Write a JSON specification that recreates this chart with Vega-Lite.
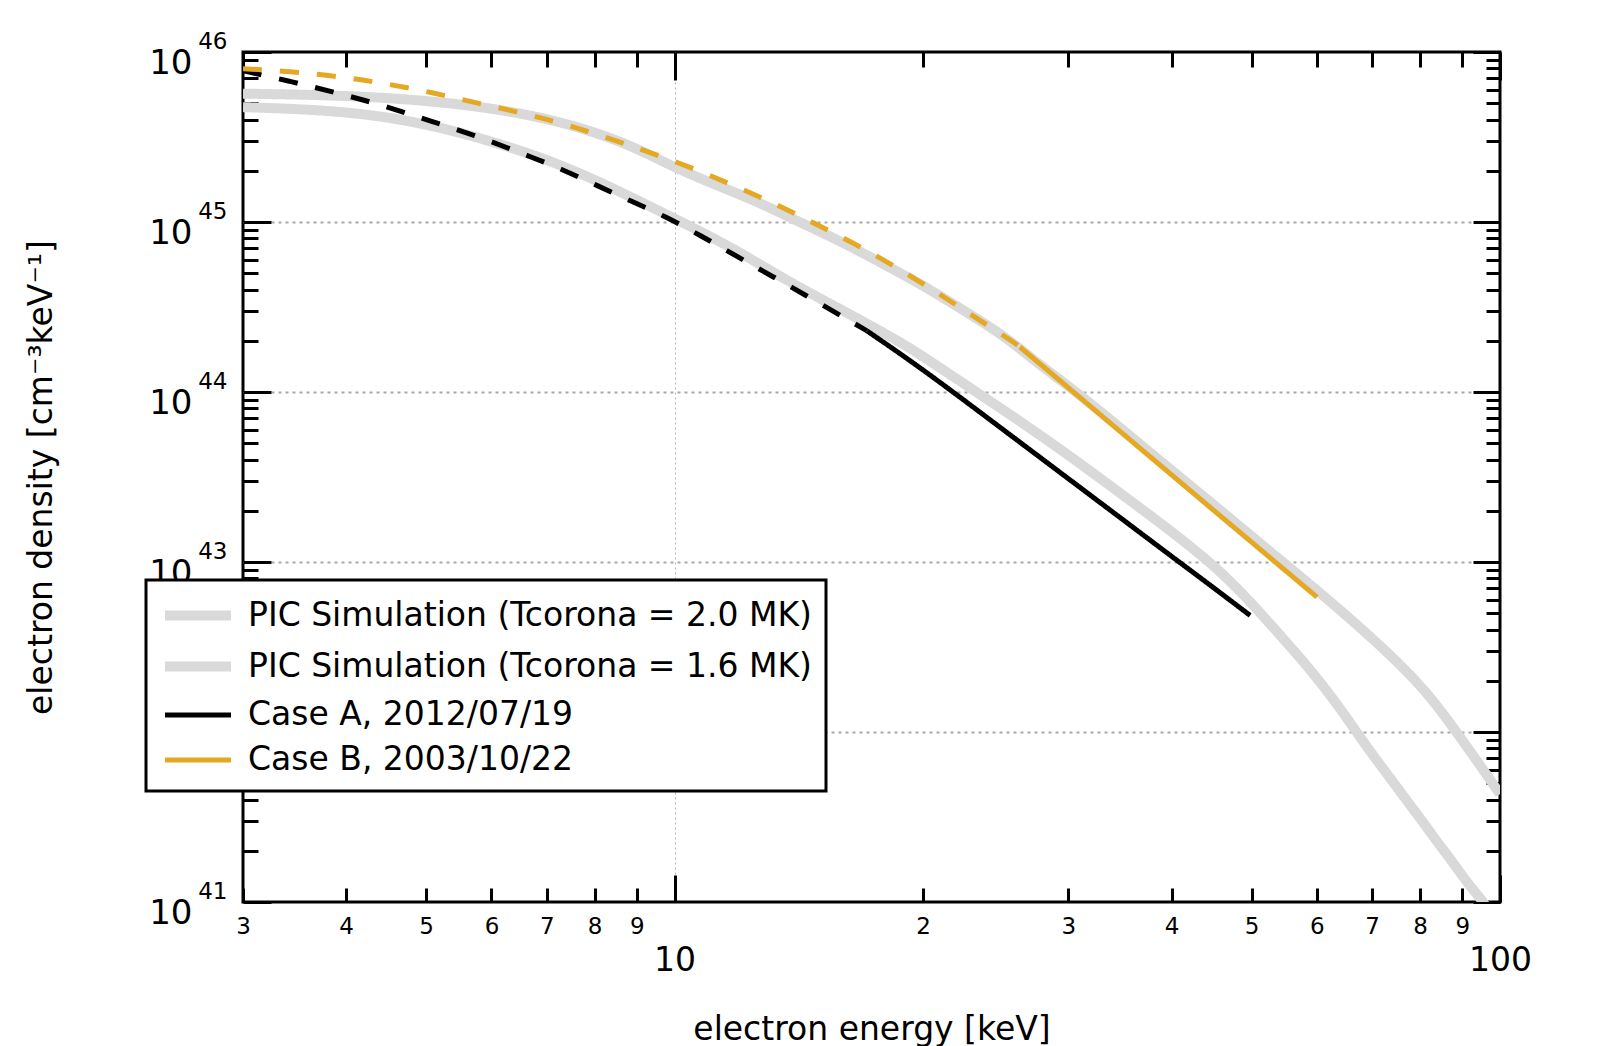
{
  "$schema": "https://vega.github.io/schema/vega-lite/v6.json",
  "width": 1257,
  "height": 850,
  "autosize": {"type": "none"},
  "padding": {"left": 243, "top": 52, "right": 104, "bottom": 144},
  "background": "white",
  "config": {
    "font": "DejaVu Sans",
    "view": {"stroke": "#000000", "strokeWidth": 3},
    "axis": {
      "labelFont": "DejaVu Sans",
      "titleFont": "DejaVu Sans",
      "labelColor": "#000000",
      "titleColor": "#000000",
      "titleFontWeight": "normal",
      "domain": false,
      "tickColor": "#000000",
      "tickWidth": 3,
      "labelFlush": false,
      "labelOverlap": false,
      "labelBound": false
    }
  },
  "datasets": {
    "spectra": [
      {"series": "PIC Simulation (Tcorona = 2.0 MK)", "part": "sim", "energy": 3, "density": 5.69e45},
      {"series": "PIC Simulation (Tcorona = 2.0 MK)", "part": "sim", "energy": 4, "density": 5.56e45},
      {"series": "PIC Simulation (Tcorona = 2.0 MK)", "part": "sim", "energy": 5, "density": 5.19e45},
      {"series": "PIC Simulation (Tcorona = 2.0 MK)", "part": "sim", "energy": 6, "density": 4.68e45},
      {"series": "PIC Simulation (Tcorona = 2.0 MK)", "part": "sim", "energy": 7, "density": 4.07e45},
      {"series": "PIC Simulation (Tcorona = 2.0 MK)", "part": "sim", "energy": 8, "density": 3.39e45},
      {"series": "PIC Simulation (Tcorona = 2.0 MK)", "part": "sim", "energy": 9, "density": 2.72e45},
      {"series": "PIC Simulation (Tcorona = 2.0 MK)", "part": "sim", "energy": 10, "density": 2.09e45},
      {"series": "PIC Simulation (Tcorona = 2.0 MK)", "part": "sim", "energy": 11.2, "density": 1.66e45},
      {"series": "PIC Simulation (Tcorona = 2.0 MK)", "part": "sim", "energy": 12.6, "density": 1.318e45},
      {"series": "PIC Simulation (Tcorona = 2.0 MK)", "part": "sim", "energy": 14.1, "density": 1.01e45},
      {"series": "PIC Simulation (Tcorona = 2.0 MK)", "part": "sim", "energy": 15.85, "density": 7.76e44},
      {"series": "PIC Simulation (Tcorona = 2.0 MK)", "part": "sim", "energy": 17.8, "density": 5.75e44},
      {"series": "PIC Simulation (Tcorona = 2.0 MK)", "part": "sim", "energy": 19.95, "density": 4.27e44},
      {"series": "PIC Simulation (Tcorona = 2.0 MK)", "part": "sim", "energy": 22.4, "density": 3.02e44},
      {"series": "PIC Simulation (Tcorona = 2.0 MK)", "part": "sim", "energy": 25.1, "density": 2.14e44},
      {"series": "PIC Simulation (Tcorona = 2.0 MK)", "part": "sim", "energy": 27.5, "density": 1.48e44},
      {"series": "PIC Simulation (Tcorona = 2.0 MK)", "part": "sim", "energy": 30.7, "density": 1.0e44},
      {"series": "PIC Simulation (Tcorona = 2.0 MK)", "part": "sim", "energy": 35.5, "density": 5.60e43},
      {"series": "PIC Simulation (Tcorona = 2.0 MK)", "part": "sim", "energy": 39.8, "density": 3.53e43},
      {"series": "PIC Simulation (Tcorona = 2.0 MK)", "part": "sim", "energy": 44.7, "density": 2.23e43},
      {"series": "PIC Simulation (Tcorona = 2.0 MK)", "part": "sim", "energy": 50.1, "density": 1.406e43},
      {"series": "PIC Simulation (Tcorona = 2.0 MK)", "part": "sim", "energy": 56.2, "density": 8.87e42},
      {"series": "PIC Simulation (Tcorona = 2.0 MK)", "part": "sim", "energy": 63.1, "density": 5.56e42},
      {"series": "PIC Simulation (Tcorona = 2.0 MK)", "part": "sim", "energy": 70.8, "density": 3.39e42},
      {"series": "PIC Simulation (Tcorona = 2.0 MK)", "part": "sim", "energy": 75.9, "density": 2.455e42},
      {"series": "PIC Simulation (Tcorona = 2.0 MK)", "part": "sim", "energy": 81.3, "density": 1.738e42},
      {"series": "PIC Simulation (Tcorona = 2.0 MK)", "part": "sim", "energy": 87.1, "density": 1.122e42},
      {"series": "PIC Simulation (Tcorona = 2.0 MK)", "part": "sim", "energy": 93.3, "density": 7.0e41},
      {"series": "PIC Simulation (Tcorona = 2.0 MK)", "part": "sim", "energy": 100, "density": 4.32e41},

      {"series": "PIC Simulation (Tcorona = 1.6 MK)", "part": "sim", "energy": 3, "density": 4.74e45},
      {"series": "PIC Simulation (Tcorona = 1.6 MK)", "part": "sim", "energy": 4, "density": 4.52e45},
      {"series": "PIC Simulation (Tcorona = 1.6 MK)", "part": "sim", "energy": 5, "density": 3.80e45},
      {"series": "PIC Simulation (Tcorona = 1.6 MK)", "part": "sim", "energy": 6, "density": 2.99e45},
      {"series": "PIC Simulation (Tcorona = 1.6 MK)", "part": "sim", "energy": 7, "density": 2.34e45},
      {"series": "PIC Simulation (Tcorona = 1.6 MK)", "part": "sim", "energy": 8, "density": 1.778e45},
      {"series": "PIC Simulation (Tcorona = 1.6 MK)", "part": "sim", "energy": 9, "density": 1.349e45},
      {"series": "PIC Simulation (Tcorona = 1.6 MK)", "part": "sim", "energy": 10, "density": 1.047e45},
      {"series": "PIC Simulation (Tcorona = 1.6 MK)", "part": "sim", "energy": 11, "density": 8.32e44},
      {"series": "PIC Simulation (Tcorona = 1.6 MK)", "part": "sim", "energy": 12, "density": 6.61e44},
      {"series": "PIC Simulation (Tcorona = 1.6 MK)", "part": "sim", "energy": 13, "density": 5.25e44},
      {"series": "PIC Simulation (Tcorona = 1.6 MK)", "part": "sim", "energy": 14, "density": 4.27e44},
      {"series": "PIC Simulation (Tcorona = 1.6 MK)", "part": "sim", "energy": 15, "density": 3.55e44},
      {"series": "PIC Simulation (Tcorona = 1.6 MK)", "part": "sim", "energy": 17, "density": 2.57e44},
      {"series": "PIC Simulation (Tcorona = 1.6 MK)", "part": "sim", "energy": 18.75, "density": 1.97e44},
      {"series": "PIC Simulation (Tcorona = 1.6 MK)", "part": "sim", "energy": 20, "density": 1.62e44},
      {"series": "PIC Simulation (Tcorona = 1.6 MK)", "part": "sim", "energy": 23.2, "density": 1.0e44},
      {"series": "PIC Simulation (Tcorona = 1.6 MK)", "part": "sim", "energy": 26, "density": 6.92e43},
      {"series": "PIC Simulation (Tcorona = 1.6 MK)", "part": "sim", "energy": 30, "density": 4.27e43},
      {"series": "PIC Simulation (Tcorona = 1.6 MK)", "part": "sim", "energy": 35, "density": 2.455e43},
      {"series": "PIC Simulation (Tcorona = 1.6 MK)", "part": "sim", "energy": 40, "density": 1.514e43},
      {"series": "PIC Simulation (Tcorona = 1.6 MK)", "part": "sim", "energy": 44.5, "density": 1.0e43},
      {"series": "PIC Simulation (Tcorona = 1.6 MK)", "part": "sim", "energy": 48, "density": 7.08e42},
      {"series": "PIC Simulation (Tcorona = 1.6 MK)", "part": "sim", "energy": 52.2, "density": 4.54e42},
      {"series": "PIC Simulation (Tcorona = 1.6 MK)", "part": "sim", "energy": 56, "density": 3.09e42},
      {"series": "PIC Simulation (Tcorona = 1.6 MK)", "part": "sim", "energy": 60, "density": 2.09e42},
      {"series": "PIC Simulation (Tcorona = 1.6 MK)", "part": "sim", "energy": 64, "density": 1.38e42},
      {"series": "PIC Simulation (Tcorona = 1.6 MK)", "part": "sim", "energy": 67, "density": 1.0e42},
      {"series": "PIC Simulation (Tcorona = 1.6 MK)", "part": "sim", "energy": 70, "density": 7.41e41},
      {"series": "PIC Simulation (Tcorona = 1.6 MK)", "part": "sim", "energy": 73.6, "density": 5.37e41},
      {"series": "PIC Simulation (Tcorona = 1.6 MK)", "part": "sim", "energy": 77, "density": 3.98e41},
      {"series": "PIC Simulation (Tcorona = 1.6 MK)", "part": "sim", "energy": 80.7, "density": 2.95e41},
      {"series": "PIC Simulation (Tcorona = 1.6 MK)", "part": "sim", "energy": 84, "density": 2.24e41},
      {"series": "PIC Simulation (Tcorona = 1.6 MK)", "part": "sim", "energy": 87.8, "density": 1.70e41},
      {"series": "PIC Simulation (Tcorona = 1.6 MK)", "part": "sim", "energy": 91, "density": 1.32e41},
      {"series": "PIC Simulation (Tcorona = 1.6 MK)", "part": "sim", "energy": 95.5, "density": 1.0e41},
      {"series": "PIC Simulation (Tcorona = 1.6 MK)", "part": "sim", "energy": 98, "density": 8.3e40},

      {"series": "Case A, 2012/07/19", "part": "extrap", "energy": 3, "density": 7.76e45},
      {"series": "Case A, 2012/07/19", "part": "extrap", "energy": 3.45, "density": 6.67e45},
      {"series": "Case A, 2012/07/19", "part": "extrap", "energy": 3.9, "density": 5.74e45},
      {"series": "Case A, 2012/07/19", "part": "extrap", "energy": 4.36, "density": 4.97e45},
      {"series": "Case A, 2012/07/19", "part": "extrap", "energy": 4.85, "density": 4.19e45},
      {"series": "Case A, 2012/07/19", "part": "extrap", "energy": 5.37, "density": 3.59e45},
      {"series": "Case A, 2012/07/19", "part": "extrap", "energy": 5.98, "density": 2.99e45},
      {"series": "Case A, 2012/07/19", "part": "extrap", "energy": 6.62, "density": 2.47e45},
      {"series": "Case A, 2012/07/19", "part": "extrap", "energy": 7.33, "density": 2.03e45},
      {"series": "Case A, 2012/07/19", "part": "extrap", "energy": 8.05, "density": 1.64e45},
      {"series": "Case A, 2012/07/19", "part": "extrap", "energy": 8.91, "density": 1.31e45},
      {"series": "Case A, 2012/07/19", "part": "extrap", "energy": 9.78, "density": 1.07e45},
      {"series": "Case A, 2012/07/19", "part": "extrap", "energy": 10.64, "density": 8.55e44},
      {"series": "Case A, 2012/07/19", "part": "extrap", "energy": 11.56, "density": 6.81e44},
      {"series": "Case A, 2012/07/19", "part": "extrap", "energy": 12.63, "density": 5.32e44},
      {"series": "Case A, 2012/07/19", "part": "extrap", "energy": 13.73, "density": 4.25e44},
      {"series": "Case A, 2012/07/19", "part": "extrap", "energy": 15.0, "density": 3.31e44},
      {"series": "Case A, 2012/07/19", "part": "extrap", "energy": 16.31, "density": 2.62e44},
      {"series": "Case A, 2012/07/19", "part": "extrap", "energy": 17.1, "density": 2.29e44},
      {"series": "Case A, 2012/07/19", "part": "obs", "energy": 17.1, "density": 2.29e44},
      {"series": "Case A, 2012/07/19", "part": "obs", "energy": 20, "density": 1.36e44},
      {"series": "Case A, 2012/07/19", "part": "obs", "energy": 25, "density": 6.01e43},
      {"series": "Case A, 2012/07/19", "part": "obs", "energy": 30, "density": 3.09e43},
      {"series": "Case A, 2012/07/19", "part": "obs", "energy": 35, "density": 1.76e43},
      {"series": "Case A, 2012/07/19", "part": "obs", "energy": 40, "density": 1.08e43},
      {"series": "Case A, 2012/07/19", "part": "obs", "energy": 45, "density": 7.05e42},
      {"series": "Case A, 2012/07/19", "part": "obs", "energy": 49.8, "density": 4.85e42},

      {"series": "Case B, 2003/10/22", "part": "extrap", "energy": 3, "density": 7.98e45},
      {"series": "Case B, 2003/10/22", "part": "extrap", "energy": 3.485, "density": 7.62e45},
      {"series": "Case B, 2003/10/22", "part": "extrap", "energy": 3.97, "density": 7.13e45},
      {"series": "Case B, 2003/10/22", "part": "extrap", "energy": 4.46, "density": 6.52e45},
      {"series": "Case B, 2003/10/22", "part": "extrap", "energy": 5.01, "density": 5.87e45},
      {"series": "Case B, 2003/10/22", "part": "extrap", "energy": 5.62, "density": 5.15e45},
      {"series": "Case B, 2003/10/22", "part": "extrap", "energy": 6.32, "density": 4.54e45},
      {"series": "Case B, 2003/10/22", "part": "extrap", "energy": 7.10, "density": 3.96e45},
      {"series": "Case B, 2003/10/22", "part": "extrap", "energy": 7.90, "density": 3.38e45},
      {"series": "Case B, 2003/10/22", "part": "extrap", "energy": 8.75, "density": 2.86e45},
      {"series": "Case B, 2003/10/22", "part": "extrap", "energy": 9.69, "density": 2.41e45},
      {"series": "Case B, 2003/10/22", "part": "extrap", "energy": 10.79, "density": 1.97e45},
      {"series": "Case B, 2003/10/22", "part": "extrap", "energy": 11.89, "density": 1.61e45},
      {"series": "Case B, 2003/10/22", "part": "extrap", "energy": 13.11, "density": 1.31e45},
      {"series": "Case B, 2003/10/22", "part": "extrap", "energy": 14.32, "density": 1.06e45},
      {"series": "Case B, 2003/10/22", "part": "extrap", "energy": 15.64, "density": 8.55e44},
      {"series": "Case B, 2003/10/22", "part": "extrap", "energy": 17.1, "density": 6.81e44},
      {"series": "Case B, 2003/10/22", "part": "extrap", "energy": 18.66, "density": 5.32e44},
      {"series": "Case B, 2003/10/22", "part": "extrap", "energy": 20.29, "density": 4.15e44},
      {"series": "Case B, 2003/10/22", "part": "extrap", "energy": 21.97, "density": 3.24e44},
      {"series": "Case B, 2003/10/22", "part": "extrap", "energy": 23.77, "density": 2.52e44},
      {"series": "Case B, 2003/10/22", "part": "extrap", "energy": 25.73, "density": 1.97e44},
      {"series": "Case B, 2003/10/22", "part": "extrap", "energy": 26.2, "density": 1.84e44},
      {"series": "Case B, 2003/10/22", "part": "obs", "energy": 26.2, "density": 1.84e44},
      {"series": "Case B, 2003/10/22", "part": "obs", "energy": 30, "density": 1.06e44},
      {"series": "Case B, 2003/10/22", "part": "obs", "energy": 35, "density": 5.62e43},
      {"series": "Case B, 2003/10/22", "part": "obs", "energy": 40, "density": 3.26e43},
      {"series": "Case B, 2003/10/22", "part": "obs", "energy": 45, "density": 2.01e43},
      {"series": "Case B, 2003/10/22", "part": "obs", "energy": 50, "density": 1.31e43},
      {"series": "Case B, 2003/10/22", "part": "obs", "energy": 55, "density": 8.87e42},
      {"series": "Case B, 2003/10/22", "part": "obs", "energy": 60, "density": 6.22e42}
    ]
  },
  "data": {"name": "spectra"},
  "encoding": {
    "color": {
      "field": "series",
      "type": "nominal",
      "scale": {
        "domain": ["PIC Simulation (Tcorona = 2.0 MK)", "PIC Simulation (Tcorona = 1.6 MK)", "Case A, 2012/07/19", "Case B, 2003/10/22"],
        "range": ["#d9d9d9", "#d9d9d9", "#000000", "#e4a823"]
      },
      "legend": {
        "orient": "none",
        "legendX": -97,
        "legendY": 528,
        "title": null,
        "zindex": 1,
        "fillColor": "#ffffff",
        "strokeColor": "#000000",
        "padding": 14,
        "rowPadding": 9,
        "labelFont": "DejaVu Sans",
        "labelFontSize": 33,
        "labelColor": "#000000",
        "labelLimit": 0,
        "labelOffset": 45,
        "symbolType": "M-1,0H3",
        "symbolSize": 1089,
        "encode": {"legend": {"update": {"strokeWidth": {"value": 3}}}}
      }
    },
    "strokeWidth": {
      "field": "series",
      "type": "nominal",
      "scale": {
        "type": "ordinal",
        "domain": ["PIC Simulation (Tcorona = 2.0 MK)", "PIC Simulation (Tcorona = 1.6 MK)", "Case A, 2012/07/19", "Case B, 2003/10/22"],
        "range": [10, 10, 5, 5]
      }
    },
    "strokeDash": {
      "field": "part",
      "type": "nominal",
      "scale": {"domain": ["sim", "obs", "extrap"], "range": [[1, 0], [1, 0], [19, 18]]},
      "legend": null
    }
  },
  "layer": [
    {
      "transform": [{"filter": "indexof(datum.series, 'PIC') === 0"}],
      "mark": {"type": "line", "clip": true, "interpolate": "basis"},
      "encoding": {
        "x": {
          "field": "energy",
          "type": "quantitative",
          "scale": {"type": "log", "domain": [3, 100], "nice": false},
          "axis": {
            "orient": "bottom",
            "values": [3, 4, 5, 6, 7, 8, 9, 10, 20, 30, 40, 50, 60, 70, 80, 90, 100],
            "labelExpr": "(datum.value == 10 || datum.value == 100 || datum.value < 10) ? ('' + datum.value) : ('' + round(datum.value / 10))",
            "labelFontSize": {"condition": {"test": "datum.value == 10 || datum.value == 100", "value": 33}, "value": 23},
            "labelPadding": {"condition": {"test": "datum.value == 10 || datum.value == 100", "value": 69}, "value": 27},
            "labelBaseline": "top",
            "tickSize": {"condition": {"test": "datum.value == 10 || datum.value == 100", "value": -27}, "value": -14},
            "grid": true,
            "gridColor": "#b5b5b5",
            "gridDash": [2, 3],
            "gridWidth": 1,
            "gridOpacity": {"condition": {"test": "datum.value == 10", "value": 1}, "value": 0},
            "title": "electron energy [keV]",
            "titleFontSize": 33,
            "titlePadding": 36
          }
        },
        "y": {
          "field": "density",
          "type": "quantitative",
          "scale": {"type": "log", "domain": [1e41, 1e46], "nice": false},
          "axis": {
            "orient": "left",
            "values": [1e41, 2e41, 3e41, 4e41, 5e41, 6e41, 7e41, 8e41, 9e41, 1e42, 2e42, 3e42, 4e42, 5e42, 6e42, 7e42, 8e42, 9e42, 1e43, 2e43, 3e43, 4e43, 5e43, 6e43, 7e43, 8e43, 9e43, 1e44, 2e44, 3e44, 4e44, 5e44, 6e44, 7e44, 8e44, 9e44, 1e45, 2e45, 3e45, 4e45, 5e45, 6e45, 7e45, 8e45, 9e45, 1e46],
            "labelExpr": "abs(log(datum.value) / LN10 - round(log(datum.value) / LN10)) < 0.001 ? '10' : ''",
            "labelFontSize": 34,
            "labelPadding": 79,
            "labelOffset": 11,
            "tickSize": {"condition": {"test": "abs(log(datum.value) / LN10 - round(log(datum.value) / LN10)) < 0.001", "value": -28}, "value": -15},
            "grid": true,
            "gridColor": "#a8a8a8",
            "gridDash": [3, 4],
            "gridWidth": 2,
            "gridOpacity": {"condition": {"test": "datum.value > 5e41 && datum.value < 5e45 && abs(log(datum.value) / LN10 - round(log(datum.value) / LN10)) < 0.001", "value": 1}, "value": 0},
            "title": "electron density [cm⁻³keV⁻¹]",
            "titleFontSize": 33,
            "titlePadding": 90
          }
        }
      }
    },
    {
      "transform": [{"filter": "datum.series === 'Case A, 2012/07/19'"}],
      "mark": {"type": "line", "clip": true, "interpolate": "basis"},
      "encoding": {
        "x": {
          "field": "energy",
          "type": "quantitative",
          "scale": {"type": "log", "domain": [3, 100], "nice": false},
          "axis": {
            "orient": "top",
            "values": [3, 4, 5, 6, 7, 8, 9, 10, 20, 30, 40, 50, 60, 70, 80, 90, 100],
            "labels": false,
            "grid": false,
            "title": null,
            "tickSize": {"condition": {"test": "datum.value == 10 || datum.value == 100", "value": -28}, "value": -15}
          }
        },
        "y": {
          "field": "density",
          "type": "quantitative",
          "scale": {"type": "log", "domain": [1e41, 1e46], "nice": false},
          "axis": {
            "orient": "right",
            "values": [1e41, 2e41, 3e41, 4e41, 5e41, 6e41, 7e41, 8e41, 9e41, 1e42, 2e42, 3e42, 4e42, 5e42, 6e42, 7e42, 8e42, 9e42, 1e43, 2e43, 3e43, 4e43, 5e43, 6e43, 7e43, 8e43, 9e43, 1e44, 2e44, 3e44, 4e44, 5e44, 6e44, 7e44, 8e44, 9e44, 1e45, 2e45, 3e45, 4e45, 5e45, 6e45, 7e45, 8e45, 9e45, 1e46],
            "labels": false,
            "grid": false,
            "title": null,
            "tickSize": {"condition": {"test": "abs(log(datum.value) / LN10 - round(log(datum.value) / LN10)) < 0.001", "value": -27}, "value": -14}
          }
        }
      }
    },
    {
      "transform": [{"filter": "datum.series === 'Case B, 2003/10/22'"}],
      "mark": {"type": "line", "clip": true, "interpolate": "basis"},
      "encoding": {
        "x": {
          "field": "energy",
          "type": "quantitative",
          "scale": {"type": "log", "domain": [3, 100], "nice": false},
          "axis": null
        },
        "y": {
          "field": "density",
          "type": "quantitative",
          "scale": {"type": "log", "domain": [1e41, 1e46], "nice": false},
          "axis": {
            "orient": "left",
            "values": [1e41, 1e42, 1e43, 1e44, 1e45, 1e46],
            "labelExpr": "'' + round(log(datum.value) / LN10)",
            "labelFontSize": 23,
            "labelPadding": 16,
            "labelOffset": -11,
            "ticks": false,
            "tickSize": 0,
            "grid": false,
            "title": null
          }
        }
      }
    }
  ],
  "resolve": {"axis": {"x": "independent", "y": "independent"}}
}
